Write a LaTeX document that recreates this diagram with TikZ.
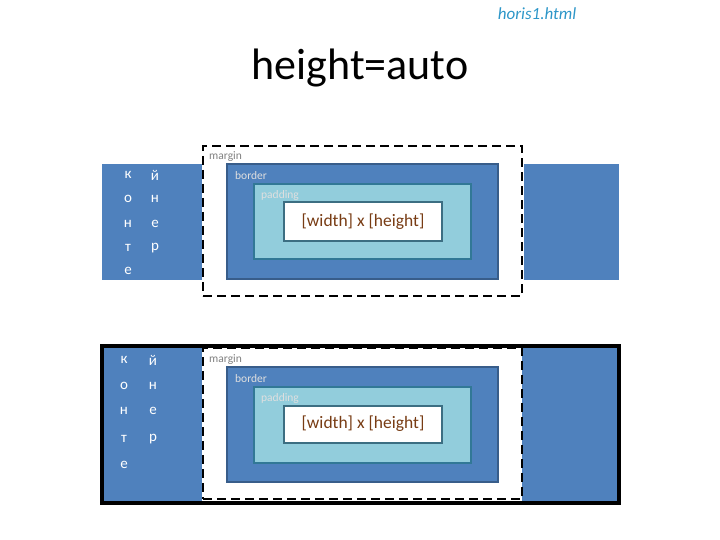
\documentclass[tikz,border=0pt]{standalone}
\usepackage{fontspec}
\setmainfont{Carlito}
\definecolor{boxblue}{RGB}{79,129,189}
\definecolor{bordline}{RGB}{56,93,138}
\definecolor{padfill}{RGB}{146,205,220}
\definecolor{padline}{RGB}{49,120,150}
\definecolor{contline}{RGB}{60,110,130}
\definecolor{txtbrown}{RGB}{120,60,20}
\definecolor{linkblue}{RGB}{45,150,200}
\begin{document}
\begin{tikzpicture}[x=1pt,y=-1pt,
  area/.style={rectangle,anchor=north west,inner sep=0pt,outer sep=0pt},
  sidebox/.style={area,fill=boxblue},
  marginbox/.style={area,draw=black,line width=2pt,dash pattern=on 9pt off 5pt},
  borderbox/.style={area,fill=boxblue,draw=bordline,line width=1.5pt},
  padbox/.style={area,fill=padfill,draw=padline,line width=1.5pt},
  contbox/.style={area,fill=white,draw=contline,line width=2pt},
  lbl/.style={anchor=west,inner sep=0pt,font=\fontsize{11.5}{11.5}\selectfont},
  cyr/.style={inner sep=0pt,text=white,font=\fontsize{15}{15}\selectfont},
  frame/.style={area,draw=black,line width=4pt}
]
\useasboundingbox (0,0) rectangle (720,540);

\node[inner sep=0pt,text=linkblue,font=\itshape\fontsize{17}{17}\selectfont] (link) at (537,14) {horis1.html};
\node[inner sep=0pt,font=\fontsize{44}{44}\selectfont] (title) at (360,68) {height=auto};

% ---------- top diagram ----------
\node[sidebox,minimum width=100pt,minimum height=116pt] (tl) at (102,164) {};
\node[sidebox,minimum width=95pt,minimum height=116pt] (tr) at (524,164) {};
\node[marginbox,minimum width=319pt,minimum height=150pt] (tm) at (203,146) {};
\node[borderbox,minimum width=271pt,minimum height=115pt] (tb) at (227,164) {};
\node[padbox,minimum width=217pt,minimum height=75pt] (tp) at (254,184) {};
\node[contbox,minimum width=158pt,minimum height=39pt] (tc) at (284,202) {};
\node[inner sep=0pt,text=txtbrown,font=\fontsize{17.5}{17.5}\selectfont] (tct) at (363,222) {[width] x [height]};
\node[lbl,text=gray] (tml) at (209,157) {margin};
\node[lbl,text=white!75!gray] (tbl) at (235,176) {border};
\node[lbl,text=white!75!gray] (tpl) at (261,195) {padding};
\node[cyr] (t1) at (128,175) {к};
\node[cyr] (t2) at (128,199) {о};
\node[cyr] (t3) at (128,224) {н};
\node[cyr] (t4) at (128,248) {т};
\node[cyr] (t5) at (128,271) {е};
\node[cyr] (t6) at (155,175) {й};
\node[cyr] (t7) at (155,199) {н};
\node[cyr] (t8) at (155,224) {е};
\node[cyr] (t9) at (155,248) {р};

% ---------- bottom diagram ----------
\node[sidebox,minimum width=100pt,minimum height=155pt] (bl) at (102,346) {};
\node[sidebox,minimum width=96pt,minimum height=155pt] (br) at (522,346) {};
\node[frame,minimum width=517pt,minimum height=157pt] (bf) at (102,346) {};
\node[area,fill=white,minimum width=319pt,minimum height=151pt] (bw) at (203,348) {};
\node[marginbox,minimum width=319pt,minimum height=151pt] (bm) at (203,348) {};
\node[borderbox,minimum width=271pt,minimum height=115pt] (bb) at (227,367) {};
\node[padbox,minimum width=217pt,minimum height=76pt] (bp) at (254,387) {};
\node[contbox,minimum width=158pt,minimum height=37pt] (bc) at (284,406) {};
\node[inner sep=0pt,text=txtbrown,font=\fontsize{17.5}{17.5}\selectfont] (bct) at (363,424) {[width] x [height]};
\node[lbl,text=gray] (bml) at (209,360) {margin};
\node[lbl,text=white!75!gray] (bbl) at (235,379) {border};
\node[lbl,text=white!75!gray] (bpl) at (261,398) {padding};
\node[cyr] (b1) at (124,360) {к};
\node[cyr] (b2) at (124,386) {о};
\node[cyr] (b3) at (124,411) {н};
\node[cyr] (b4) at (124,439) {т};
\node[cyr] (b5) at (124,465) {е};
\node[cyr] (b6) at (153,360) {й};
\node[cyr] (b7) at (153,386) {н};
\node[cyr] (b8) at (153,411) {е};
\node[cyr] (b9) at (153,439) {р};
\end{tikzpicture}
\end{document}
